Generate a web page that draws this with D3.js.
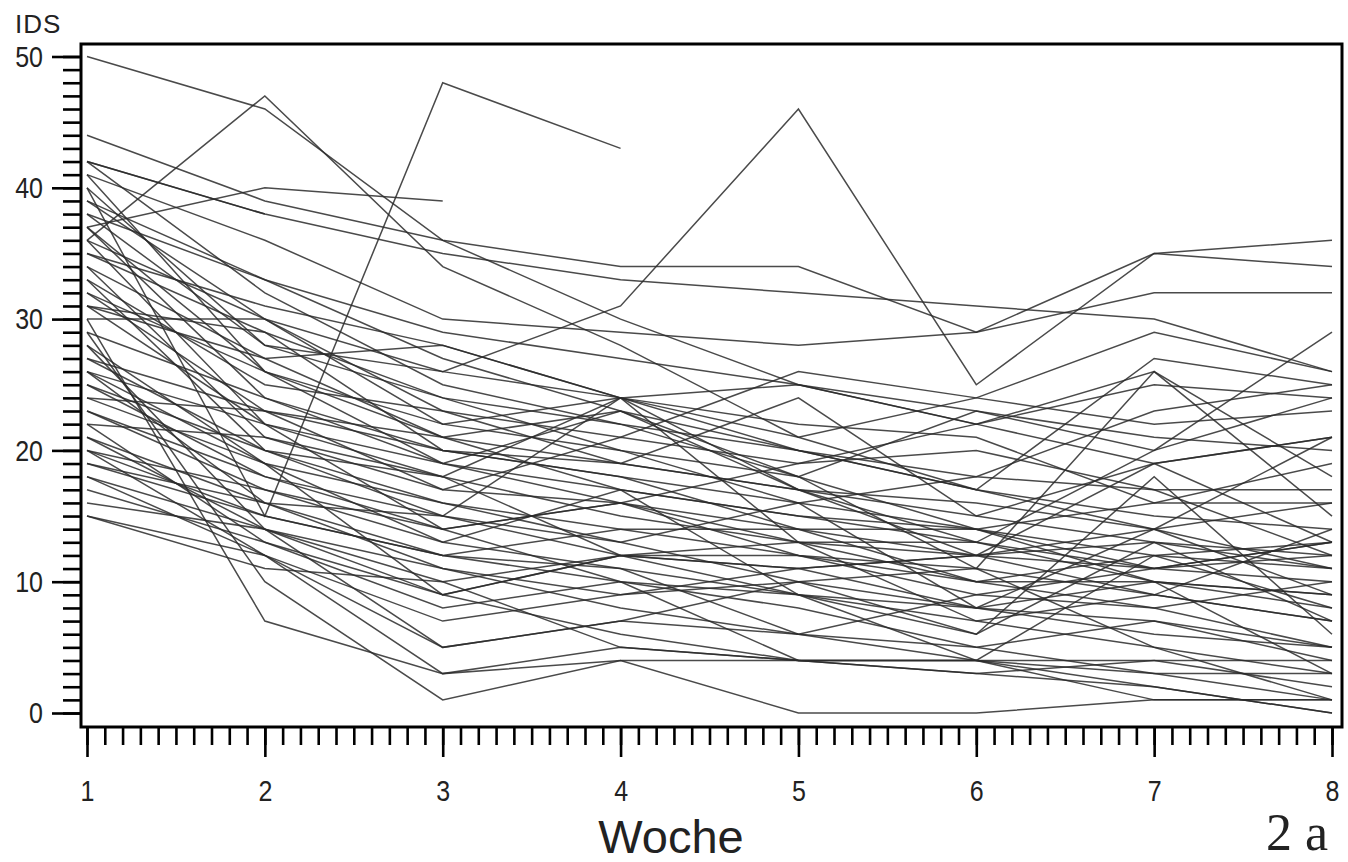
<!DOCTYPE html>
<html>
<head>
<meta charset="utf-8">
<title>IDS Woche</title>
<script src="https://cdn.jsdelivr.net/npm/d3@7"></script>
<style>
  html, body { margin: 0; padding: 0; background: #fff; }
  .graph { display: block; }
</style>
</head>
<body>
<svg class="graph" width="1348" height="862"></svg>
<script>
//======
// Data
//======

var weeks = [1, 2, 3, 4, 5, 6, 7, 8];
var weekLabels = ["1", "2", "3", "4", "5", "6", "7", "8"];
var idsTicks = [0, 10, 20, 30, 40, 50];

// one row per patient, IDS score per week (null = no visit)
var patients = [
  [50, 46, 36, 30, 25, 22, 19, 13],
  [36, 47, 34, 28, 21, 17, 14, 11],
  [40, 15, 48, 43, null, null, null, null],
  [37, 40, 39, null, null, null, null, null],
  [42, 38, null, null, null, null, null, null],
  [44, 39, 36, 34, 34, 29, 35, 36],
  [42, 38, 35, 33, 32, 31, 30, 26],
  [30, 30, 26, 31, 46, 25, 35, 34],
  [41, 36, 30, 29, 28, 29, 32, 32],
  [35, 31, 28, 24, 25, 23, 20, 29],
  [42, 32, 25, 22, 20, 17, 27, 25],
  [39, 30, 22, 24, 17, 13, 20, 24],
  [38, 28, 24, 20, 18, 11, 26, 15],
  [41, 26, 19, 23, 17, 12, 14, 21],
  [37, 24, 20, 18, 14, 10, 12, 13],
  [36, 22, 14, 16, 12, 9, 8, 5],
  [34, 21, 18, 12, 11, 8, 7, 4],
  [33, 20, 16, 13, 10, 11, 5, 1],
  [32, 23, 17, 21, 19, 22, 26, 18],
  [31, 29, 24, 22, 18, 14, 10, 3],
  [30, 7, 3, 5, 4, 4, 2, 0],
  [29, 10, 1, 4, 0, 0, 1, 1],
  [28, 19, 9, 12, 9, 4, 12, 8],
  [28, 14, 5, 7, 10, 6, 13, 7],
  [27, 20, 15, 12, 12, 10, 10, 9],
  [26, 22, 19, 17, 15, 14, 16, 16],
  [26, 16, 12, 11, 6, 4, 1, 1],
  [25, 20, 18, 24, 20, 18, 17, 17],
  [24, 19, 13, 17, 9, 6, 18, 6],
  [24, 23, 21, 23, 18, 23, 21, 20],
  [23, 18, 14, 10, 4, 3, 2, 0],
  [22, 13, 9, 6, 4, 4, 3, 3],
  [22, 21, 17, 16, 13, 10, 8, 10],
  [21, 14, 10, 5, 4, 4, 4, 2],
  [20, 17, 14, 16, 19, 20, 17, 12],
  [20, 12, 7, 9, 11, 12, 13, 11],
  [19, 15, 12, 14, 14, 14, 11, 13],
  [19, 16, 11, 8, 6, 5, 7, 5],
  [18, 14, 9, 12, 13, 7, 9, 7],
  [18, 12, 3, 4, 4, 3, 4, 4],
  [17, 13, 8, 10, 8, 5, 3, 1],
  [16, 14, 11, 9, 10, 8, 14, 9],
  [15, 12, 5, 7, 6, 9, 11, 12],
  [15, 11, 10, 12, 11, 12, 19, 21],
  [40, 28, 26, 24, 21, 24, 29, 26],
  [33, 25, 23, 21, 26, 24, 22, 23],
  [31, 27, 28, 24, 22, 21, 16, 19],
  [35, 29, 20, 19, 24, 15, 19, 21],
  [39, 33, 29, 27, 25, 22, 25, 24],
  [37, 26, 22, 20, 16, 18, 23, 25],
  [25, 18, 15, 24, 13, 12, 9, 14],
  [21, 16, 15, 13, 16, 8, 10, 8],
  [34, 27, 21, 19, 17, 15, 13, 12],
  [29, 24, 19, 16, 14, 12, 11, 10],
  [26, 19, 16, 14, 12, 11, 9, 7],
  [31, 22, 18, 15, 13, 13, 10, 9],
  [38, 33, 27, 23, 20, 17, 15, 14],
  [23, 17, 13, 11, 9, 8, 6, 5],
  [27, 23, 20, 18, 16, 14, 12, 11],
  [36, 30, 23, 19, 17, 16, 14, 16],
  [20, 15, 12, 10, 9, 7, 5, 3],
  [32, 26, 21, 17, 15, 13, 11, 13]
];

//====
// D3
//====

var svg = d3.select(".graph");
var frame = {left: 81, top: 44, right: 1342, bottom: 727};

var x = d3.scaleLinear().domain([1, 8]).range([87, 1332]);
var y = d3.scaleLinear().domain([0, 50]).range([713, 56.5]);

main();

function main() {
  drawLines();
  drawFrame();
  drawAxes();
  drawTitles();
}

function drawLines() {
  var line = d3.line()
    .defined(function (d) { return d != null; })
    .x(function (d, i) { return x(weeks[i]); })
    .y(function (d) { return y(d); });

  svg.append("g")
    .attr("class", "lines")
    .selectAll("path")
    .data(patients)
    .enter().append("path")
    .attr("d", line)
    .attr("fill", "none")
    .attr("stroke", "#2a2a2a")
    .attr("stroke-opacity", 0.85)
    .attr("stroke-width", 1.5);
}

function drawFrame() {
  svg.append("rect")
    .attr("x", frame.left)
    .attr("y", frame.top)
    .attr("width", frame.right - frame.left)
    .attr("height", frame.bottom - frame.top)
    .attr("fill", "none")
    .attr("stroke", "#000")
    .attr("stroke-width", 3);
}

function drawAxes() {
  // y axis: minor tick every point, labelled every 10
  var yMinor = svg.append("g")
    .attr("transform", "translate(" + frame.left + ",0)")
    .call(d3.axisLeft(y).ticks(50).tickSize(18).tickFormat(""));

  var yMajor = svg.append("g")
    .attr("transform", "translate(" + frame.left + ",0)")
    .call(d3.axisLeft(y).tickValues(idsTicks).tickSize(29).tickPadding(9));

  // x axis: ten subdivisions per week
  var xMinor = svg.append("g")
    .attr("transform", "translate(0," + frame.bottom + ")")
    .call(d3.axisBottom(x).tickValues(d3.range(10, 81).map(function (d) { return d / 10; }))
      .tickSize(18).tickFormat(""));

  var xMajor = svg.append("g")
    .attr("transform", "translate(0," + frame.bottom + ")")
    .call(d3.axisBottom(x).tickValues(weeks).tickSize(30).tickPadding(14)
      .tickFormat(function (d, i) { return weekLabels[i]; }));

  [yMinor, yMajor, xMinor, xMajor].forEach(function (g) {
    g.select(".domain").remove();
    g.selectAll(".tick line").attr("stroke", "#000").attr("stroke-width", 2.6);
  });

  svg.selectAll(".tick text")
    .attr("fill", "#222")
    .attr("font-family", "'Liberation Sans', Arial, sans-serif")
    .attr("font-size", 25);

  yMajor.selectAll(".tick text").attr("transform", "scale(1,1.2)");
  xMajor.selectAll(".tick text").attr("transform", "scale(1,1.2)");
}

function drawTitles() {
  svg.append("text")
    .attr("x", 15)
    .attr("y", 33)
    .attr("font-family", "'Liberation Sans', Arial, sans-serif")
    .attr("font-size", 26)
    .attr("letter-spacing", 1)
    .attr("fill", "#222")
    .text("IDS");

  svg.append("text")
    .attr("x", 671)
    .attr("y", 853)
    .attr("text-anchor", "middle")
    .attr("font-family", "'Liberation Sans', Arial, sans-serif")
    .attr("font-size", 47)
    .attr("fill", "#222")
    .text("Woche");

  svg.append("text")
    .attr("x", 1266)
    .attr("y", 850)
    .attr("font-family", "'Liberation Serif', 'Times New Roman', serif")
    .attr("font-size", 52)
    .attr("fill", "#222")
    .text("2 a");
}
</script>
</body>
</html>
